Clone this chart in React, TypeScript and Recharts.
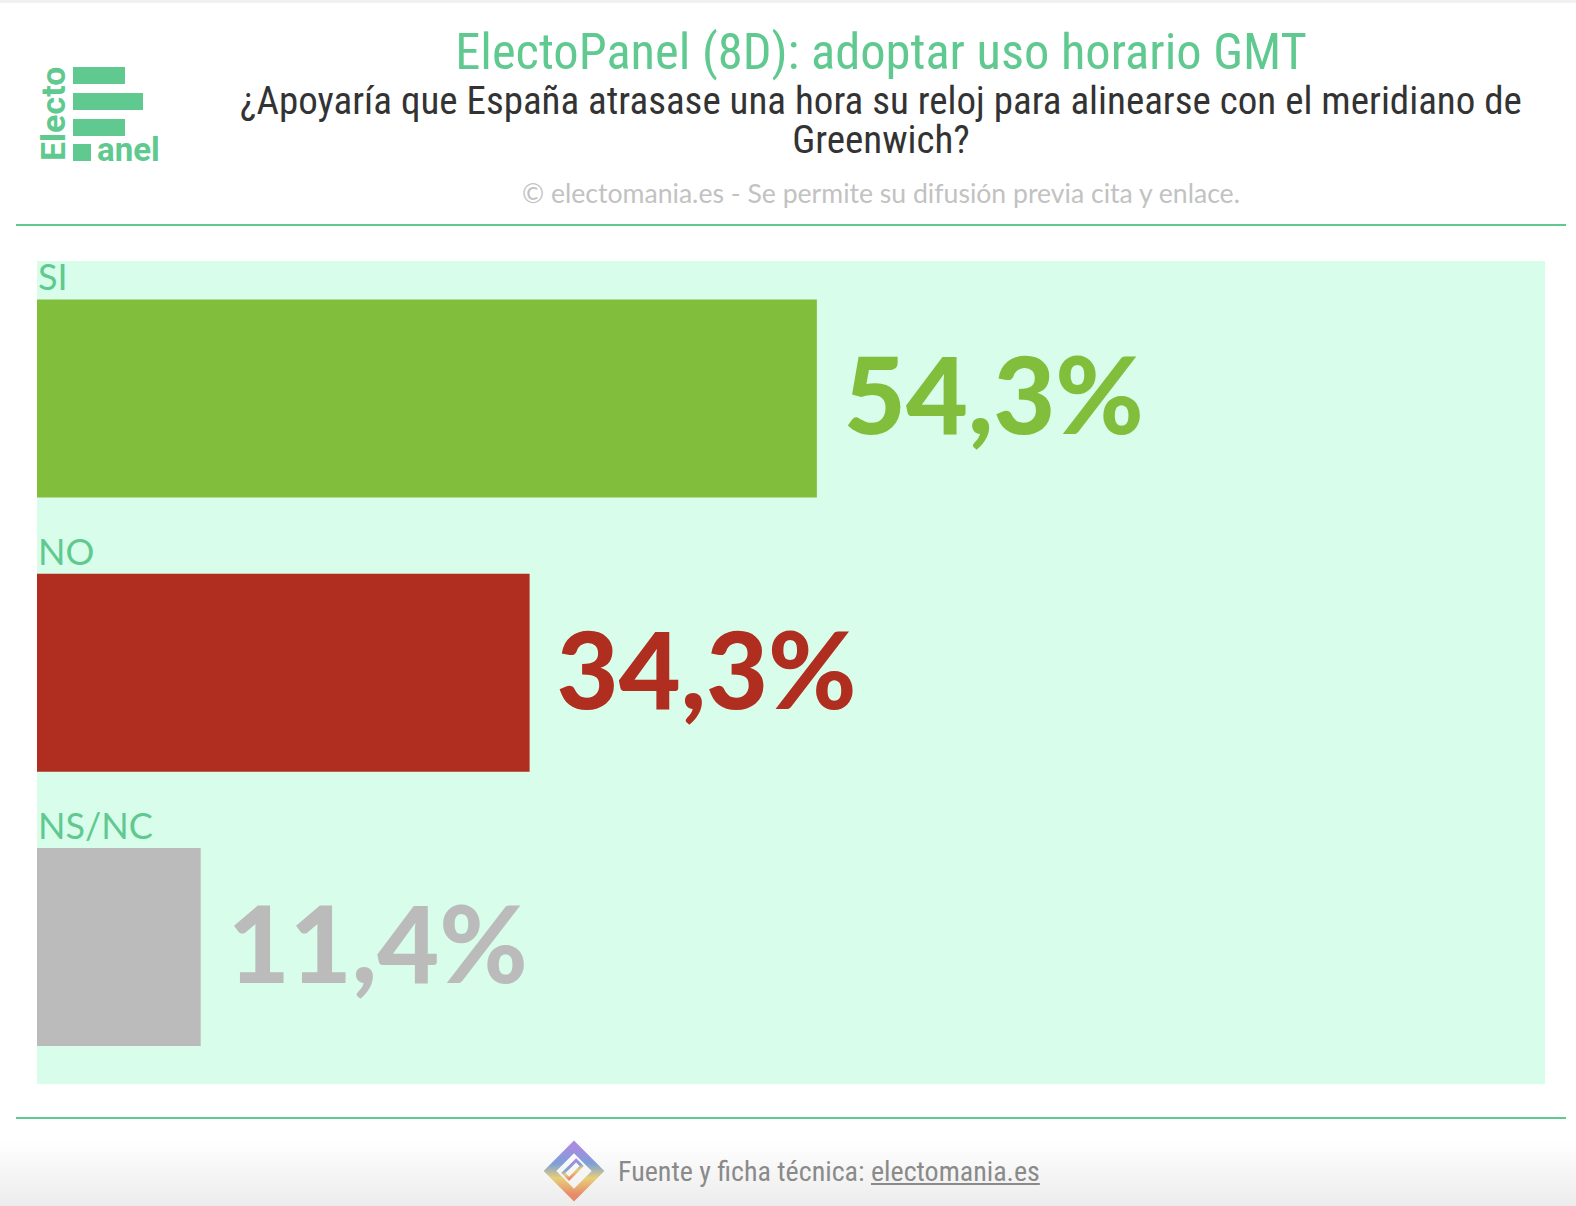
import React from 'react';
import { BarChart, Bar, XAxis, YAxis, Cell, LabelList } from 'recharts';

const categories = ['SI', 'NO', 'NS/NC'];
const values = [54.3, 34.3, 11.4];
const valueLabels = ['54,3%', '34,3%', '11,4%'];
const colors = ['#80be3c', '#b02e20', '#bbbbbb'];

const data = categories.map((name, i) => ({ name, value: values[i], label: valueLabels[i], color: colors[i] }));

const GREEN = '#5fc98f';
const CONDENSED = "'Roboto Condensed', 'Liberation Sans Narrow', 'DejaVu Sans Condensed', Roboto, sans-serif";

const NameLabel = (props: any) => {
  const { x, y, index } = props;
  return (
    <text x={x + 1} y={y - 9} fill={GREEN} fontSize={36} fontFamily="Lato, sans-serif">
      {categories[index]}
    </text>
  );
};

const ValueLabel = (props: any) => {
  const { x, y, width, height, index } = props;
  return (
    <text
      x={x + width + 27}
      y={y + height / 2 + 36}
      fill={colors[index]}
      fontSize={107}
      fontWeight={900}
      fontFamily="Lato, sans-serif"
    >
      {valueLabels[index]}
    </text>
  );
};

const Logo = () => (
  <svg width={150} height={104} style={{ position: 'absolute', left: 36, top: 62, overflow: 'visible' }}>
    <g fill={GREEN}>
      <rect x={37} y={5} width={52} height={17} />
      <rect x={37} y={31} width={70} height={17} />
      <rect x={37} y={57} width={52} height={17} />
      <rect x={37} y={82} width={18} height={17} />
      <text x={61} y={99} fontSize={33} fontWeight={700} fontFamily="Roboto, sans-serif">anel</text>
      <text
        x={0}
        y={0}
        transform="translate(29 99) rotate(-90)"
        fontSize={34}
        fontWeight={700}
        fontFamily="Roboto, sans-serif"
      >
        Electo
      </text>
    </g>
  </svg>
);

const FooterIcon = () => (
  <svg width={64} height={64} style={{ position: 'absolute', left: 542, top: 1139 }}>
    <defs>
      <linearGradient id="fi" x1="0" y1="0" x2="1" y2="1">
        <stop offset="0%" stopColor="#a98be0" />
        <stop offset="35%" stopColor="#7da0d8" />
        <stop offset="65%" stopColor="#e7cf78" />
        <stop offset="100%" stopColor="#e78a6a" />
      </linearGradient>
    </defs>
    <g transform="translate(32 32) rotate(45)">
      <rect x={-17} y={-17} width={34} height={34} fill="none" stroke="url(#fi)" strokeWidth={9} />
      <rect x={-6} y={-9} width={8} height={18} fill="none" stroke="url(#fi)" strokeWidth={3} />
    </g>
  </svg>
);

const subtitleStyle: React.CSSProperties = {
  position: 'absolute',
  left: 200,
  width: 1362,
  height: 39,
  textAlign: 'center',
  fontFamily: CONDENSED,
  color: '#333333',
  fontSize: 39,
  lineHeight: '39px',
  whiteSpace: 'nowrap',
};

export default function App() {
  return (
    <div
      style={{
        position: 'absolute',
        left: 0,
        top: 0,
        width: 1576,
        height: 1206,
        background: '#ffffff',
        overflow: 'hidden',
      }}
    >
      <div style={{ position: 'absolute', left: 0, top: 0, width: 1576, height: 3, background: '#f1f1f1' }} />
      <Logo />
      <div
        style={{
          position: 'absolute',
          left: 200,
          width: 1362,
          top: 21,
          textAlign: 'center',
          fontFamily: CONDENSED,
          color: GREEN,
          fontSize: 50.5,
          lineHeight: '62px',
        }}
      >
        ElectoPanel (8D): adoptar uso horario GMT
      </div>
      <div style={{ ...subtitleStyle, top: 82 }}>
        ¿Apoyaría que España atrasase una hora su reloj para alinearse con el meridiano de
      </div>
      <div style={{ ...subtitleStyle, top: 121 }}>Greenwich?</div>
      <div
        style={{
          position: 'absolute',
          left: 200,
          width: 1362,
          top: 175,
          textAlign: 'center',
          fontFamily: 'Lato, sans-serif',
          color: '#c2c2c2',
          fontSize: 26.6,
          lineHeight: '36px',
        }}
      >
        © electomania.es - Se permite su difusión previa cita y enlace.
      </div>
      <div style={{ position: 'absolute', left: 16, top: 224, width: 1550, height: 2, background: GREEN }} />

      <div style={{ position: 'absolute', left: 37, top: 261, width: 1508, height: 823, background: '#d9fdeb' }} />
      <div style={{ position: 'absolute', left: 37, top: 241 }}>
        <BarChart
          width={1508}
          height={843}
          data={data}
          layout="vertical"
          margin={{ top: 20, right: 0, bottom: 0, left: 0 }}
          barCategoryGap="14%"
          style={{ overflow: 'visible' }}
        >
          <XAxis type="number" domain={[0, 105]} hide />
          <YAxis type="category" dataKey="name" hide />
          <Bar dataKey="value" isAnimationActive={false}>
            {data.map((d) => (
              <Cell key={d.name} fill={d.color} />
            ))}
            <LabelList dataKey="name" content={NameLabel} />
            <LabelList dataKey="label" content={ValueLabel} />
          </Bar>
        </BarChart>
      </div>

      <div style={{ position: 'absolute', left: 16, top: 1117, width: 1550, height: 2, background: GREEN }} />
      <div
        style={{
          position: 'absolute',
          left: 0,
          top: 1119,
          width: 1576,
          height: 87,
          background: 'linear-gradient(#ffffff 25%, #ececec 100%)',
        }}
      />
      <FooterIcon />
      <div
        style={{
          position: 'absolute',
          left: 618,
          top: 1152,
          fontFamily: CONDENSED,
          color: '#8a8a8a',
          fontSize: 28,
          lineHeight: '40px',
        }}
      >
        Fuente y ficha técnica: <span style={{ textDecoration: 'underline' }}>electomania.es</span>
      </div>
    </div>
  );
}
